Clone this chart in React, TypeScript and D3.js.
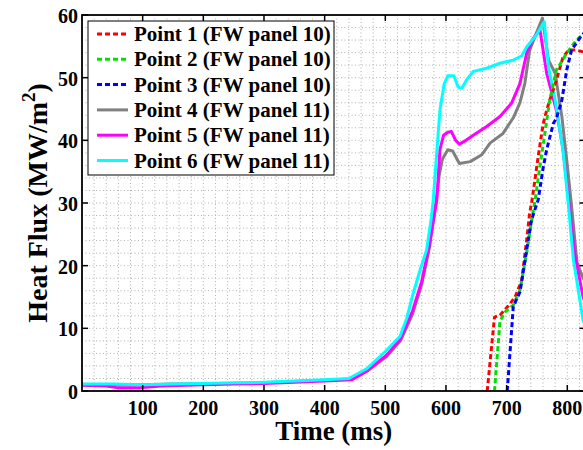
import React from "react";
import * as d3 from "d3";

// Time (ms) / heat flux (MW/m^2) samples per measurement point
const point1: [number, number][] = [
  [668, 0], [680, 11.8], [689, 12.1], [703, 13.6], [714, 15.0], [725, 17.7], [733, 24.1],
  [738, 28.4], [742, 30.5], [752, 37.4], [760, 42.5], [766, 44.8], [771, 46.4], [782, 49.6],
  [793, 53.3], [802, 54.4], [815, 54.4], [830, 54.0],
];
const point2: [number, number][] = [
  [680, 0], [689, 11.1], [697, 12.6], [711, 13.7], [722, 16.1], [733, 22.0], [740, 26.5],
  [747, 30.5], [755, 36.0], [763, 41.1], [771, 46.4], [782, 51.2], [799, 53.9], [815, 56.0],
  [830, 57.2],
];
const point3: [number, number][] = [
  [701, 0], [711, 13.5], [722, 15.8], [733, 22.5], [741, 27.3], [752, 30.5], [760, 35.5],
  [766, 38.5], [777, 42.7], [782, 43.5], [791, 46.4], [799, 51.2], [807, 54.4], [824, 56.8],
  [830, 57.3],
];
const point4: [number, number][] = [
  [0, 1.0], [50, 1.0], [100, 1.0], [150, 1.1], [200, 1.1], [250, 1.2], [300, 1.3], [350, 1.5],
  [400, 1.7], [445, 1.9], [470, 3.2], [502, 5.5], [525, 8.0], [545, 12.3], [560, 17.0],
  [573, 23.0], [584, 30.5], [589, 34.5], [594, 37.0], [603, 38.5], [611, 38.3], [622, 36.3],
  [640, 36.6], [659, 37.7], [673, 39.6], [694, 41.1], [711, 43.6], [722, 46.0], [730, 49.1],
  [738, 54.4], [749, 57.1], [759, 59.5], [769, 52.8], [780, 50.7], [791, 43.8], [799, 36.9],
  [807, 29.5], [816, 20.5], [826, 18.0], [830, 17.5],
];
const point5: [number, number][] = [
  [0, 0.9], [40, 0.8], [60, 0.5], [95, 0.5], [130, 0.8], [200, 1.0], [250, 1.1], [300, 1.2],
  [350, 1.4], [400, 1.6], [445, 1.8], [470, 3.2], [502, 5.7], [525, 8.3], [545, 12.8],
  [560, 17.5], [572, 23.0], [585, 30.5], [590, 38.5], [596, 40.8], [603, 41.3], [609, 41.4],
  [616, 40.0], [622, 39.4], [633, 40.0], [645, 40.8], [667, 42.2], [689, 43.8], [708, 45.9],
  [722, 49.1], [733, 53.9], [744, 56.3], [755, 57.6], [766, 50.7], [782, 44.8], [793, 38.5],
  [802, 30.5], [812, 22.0], [826, 15.0], [830, 14.0],
];
const point6: [number, number][] = [
  [0, 1.1], [50, 1.1], [100, 1.0], [150, 1.1], [200, 1.2], [250, 1.3], [300, 1.4], [350, 1.6],
  [400, 1.8], [440, 2.0], [470, 3.6], [500, 6.3], [524, 8.7], [535, 11.5], [546, 15.6],
  [558, 19.5], [568, 22.5], [575, 27.0], [579, 30.5], [584, 37.0], [590, 44.8], [597, 49.0],
  [603, 50.3], [613, 50.3], [620, 48.5], [626, 48.3], [635, 49.8], [645, 51.0], [667, 51.5],
  [689, 52.3], [711, 52.8], [725, 53.5], [733, 54.9], [749, 56.8], [762, 58.9], [769, 51.7],
  [780, 46.4], [793, 38.4], [801, 30.5], [810, 21.0], [826, 11.3], [830, 10.5],
];

const seriesNames = [
  "Point 1 (FW panel 10)",
  "Point 2 (FW panel 10)",
  "Point 3 (FW panel 10)",
  "Point 4 (FW panel 11)",
  "Point 5 (FW panel 11)",
  "Point 6 (FW panel 11)",
];
const seriesData = [point1, point2, point3, point4, point5, point6];
const seriesColors = ["#ff0000", "#00e000", "#0000ff", "#808080", "#ff00ff", "#00ffff"];
const seriesDashed = [true, true, true, false, false, false];

const xTicks = [100, 200, 300, 400, 500, 600, 700, 800];
const yTicks = [0, 10, 20, 30, 40, 50, 60];

const W = 583;
const H = 450;
const left = 82;
const right = 585.5;
const top = 15;
const bottom = 391;
const FONT = "'Liberation Serif', 'Times New Roman', serif";

export default function App() {
  const x = d3.scaleLinear().domain([0, 830]).range([left, right]);
  const y = d3.scaleLinear().domain([0, 60]).range([bottom, top]);
  const line = d3
    .line<[number, number]>()
    .x((d) => x(d[0]))
    .y((d) => y(d[1]));

  const gridX = d3.range(20, 830, 20);
  const gridY = d3.range(2, 60, 2);

  const legX = 88;
  const legY = 21;
  const legW = 246;
  const legH = 154;
  const rowGap = 25.3;
  const midX = (left + right) / 2;
  const midY = (top + bottom) / 2;

  return (
    <svg
      width={W}
      height={H}
      style={{ position: "absolute", left: 0, top: 0, background: "#fff" }}
      fontFamily={FONT}
    >
      <defs>
        <clipPath id="plotArea">
          <rect x={left} y={top} width={right - left} height={bottom - top} />
        </clipPath>
      </defs>

      {/* dotted grid */}
      <g stroke="#b0b0b0" strokeWidth={1} strokeDasharray="1,2.5">
        {gridX.map((t) => (
          <line key={"gx" + t} x1={x(t)} x2={x(t)} y1={top} y2={bottom} />
        ))}
        {gridY.map((v) => (
          <line key={"gy" + v} x1={left} x2={right} y1={y(v)} y2={y(v)} />
        ))}
      </g>

      {/* data */}
      <g clipPath="url(#plotArea)" fill="none" strokeLinejoin="round">
        {[3, 4, 5, 0, 1, 2].map((i) => (
          <path
            key={seriesNames[i]}
            d={line(seriesData[i]) || ""}
            stroke={seriesColors[i]}
            strokeWidth={3}
            strokeDasharray={seriesDashed[i] ? "5,3" : undefined}
          />
        ))}
      </g>

      {/* frame and ticks */}
      <rect x={left} y={top} width={right - left} height={bottom - top} fill="none" stroke="#000" strokeWidth={1.8} />
      <g stroke="#000" strokeWidth={1.5}>
        {xTicks.map((t) => (
          <g key={"xt" + t}>
            <line x1={x(t)} x2={x(t)} y1={bottom} y2={bottom - 6} />
            <line x1={x(t)} x2={x(t)} y1={top} y2={top + 6} />
          </g>
        ))}
        {yTicks.map((v) => (
          <g key={"yt" + v}>
            <line x1={left} x2={left + 6} y1={y(v)} y2={y(v)} />
            <line x1={right} x2={right - 6} y1={y(v)} y2={y(v)} />
          </g>
        ))}
      </g>

      {/* tick labels */}
      <g fontSize={20} fontWeight="bold" fill="#000">
        {xTicks.map((t) => (
          <text key={"xl" + t} x={x(t)} y={bottom + 24} textAnchor="middle">
            {t}
          </text>
        ))}
        {yTicks.map((v) => (
          <text key={"yl" + v} x={left - 4} y={y(v) + 8} textAnchor="end">
            {v}
          </text>
        ))}
      </g>

      {/* axis titles */}
      <text x={midX} y={440} fontSize={27} fontWeight="bold" textAnchor="middle">
        Time (ms)
      </text>
      <text
        transform={`translate(47, ${midY}) rotate(-90)`}
        fontSize={28}
        fontWeight="bold"
        textAnchor="middle"
      >
        Heat Flux (MW/m
        <tspan fontSize={19} dy={-12}>2</tspan>
        <tspan dy={12}>)</tspan>
      </text>

      {/* legend */}
      <rect x={legX} y={legY} width={legW} height={legH} fill="#fff" stroke="#000" strokeWidth={1} />
      {seriesNames.map((name, i) => {
        const cy = legY + 13 + i * rowGap;
        return (
          <g key={"leg" + i}>
            <line
              x1={97}
              x2={128}
              y1={cy}
              y2={cy}
              stroke={seriesColors[i]}
              strokeWidth={3}
              strokeDasharray={seriesDashed[i] ? "5,3" : undefined}
            />
            <text x={134} y={cy + 7} fontSize={21} fontWeight="bold">
              {name}
            </text>
          </g>
        );
      })}
    </svg>
  );
}
